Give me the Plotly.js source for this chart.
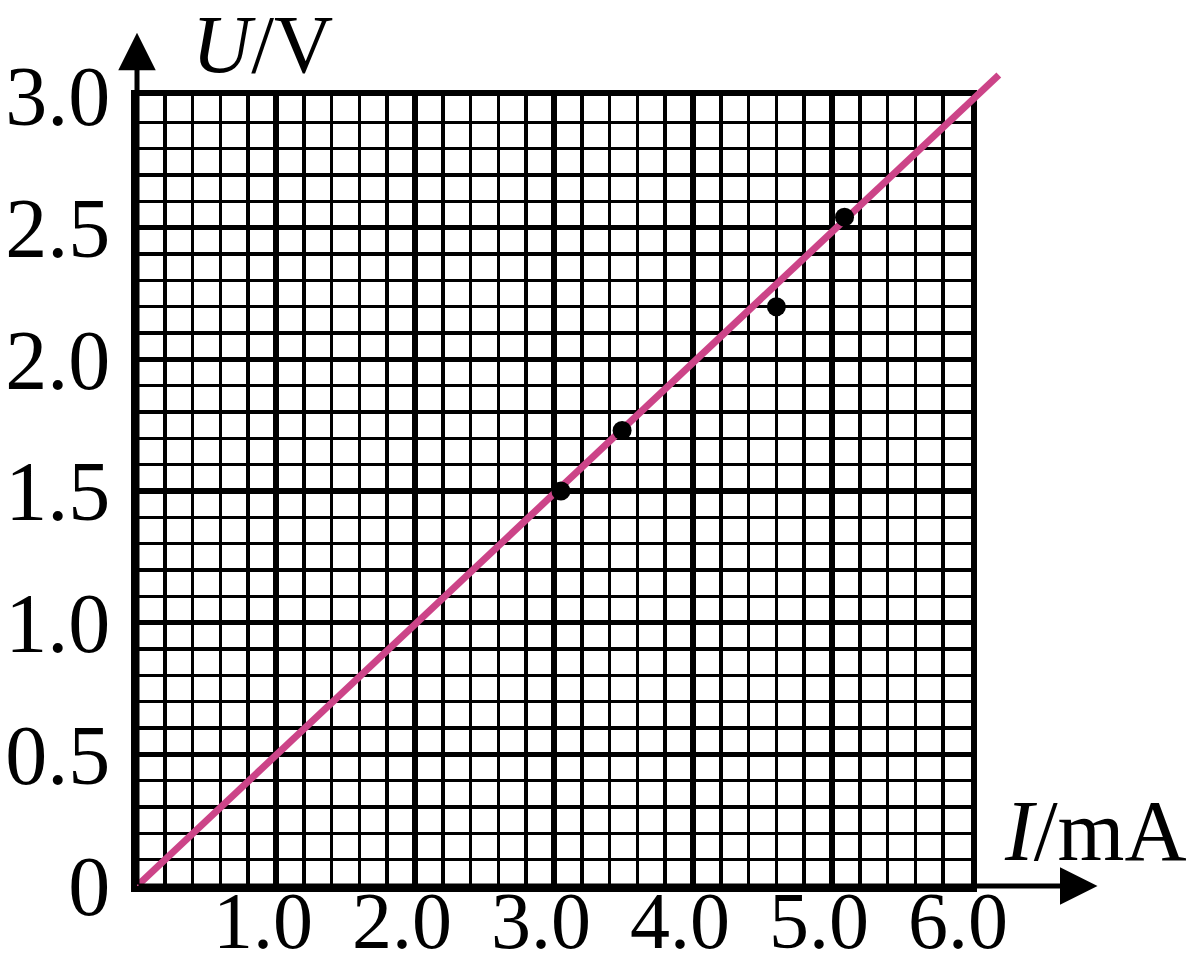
<!DOCTYPE html>
<html>
<head>
<meta charset="utf-8">
<script src="https://cdn.plot.ly/plotly-3.0.1.min.js"></script>
<style>
  html, body { margin: 0; padding: 0; background: #ffffff; }
  #chart { width: 1193px; height: 970px; }
</style>
</head>
<body>
<div id="chart"></div>
<script>
// ---- data ----
const currentI = [3.05, 3.49, 4.60, 5.09];      // I / mA (measured points)
const voltageU = [1.50, 1.73, 2.20, 2.54];      // U / V
const fitLineI = [0, 6.2];                       // fitted line I
const fitLineU = [0, 3.08];                      // fitted line U
const xTickVals = [1, 2, 3, 4, 5, 6];
const xTickText = ['1.0', '2.0', '3.0', '4.0', '5.0', '6.0'];
const yTickVals = [0, 0.5, 1, 1.5, 2, 2.5, 3];
const yTickText = ['0', '0.5', '1.0', '1.5', '2.0', '2.5', '3.0'];

// ---- layout geometry ----
const W = 1193, H = 970;
const M = { l: 137, r: 183, t: 60, b: 84 };
const plotW = W - M.l - M.r, plotH = H - M.t - M.b;
const gridW = 834, gridH = 790;           // pixel size of the 0..6 x 0..3 grid
const dx = gridW / plotW, dy = gridH / plotH;
const xMax = 6, yMax = 3;

const FONT = 'Liberation Serif, Times New Roman, serif';

const traces = [
  { // empty trace so the grid subplot (x, y) is created
    x: [], y: [], xaxis: 'x', yaxis: 'y', mode: 'markers',
    hoverinfo: 'skip', showlegend: false
  },
  {
    x: fitLineI, y: fitLineU, xaxis: 'x2', yaxis: 'y2',
    mode: 'lines', line: { color: '#cc4488', width: 7 },
    hoverinfo: 'skip', showlegend: false
  },
  {
    x: currentI, y: voltageU, xaxis: 'x2', yaxis: 'y2',
    mode: 'markers', marker: { color: '#000000', size: 19 },
    showlegend: false, cliponaxis: false
  }
];

const gridAxis = (vals, text, max, minorStep, fs) => ({
  range: [0, max], fixedrange: true,
  tickmode: 'array', tickvals: vals, ticktext: text,
  ticks: '', showgrid: true, gridcolor: '#000000', gridwidth: 5.5,
  zeroline: false, showline: true, mirror: true, linecolor: '#000000', linewidth: 6,
  tickfont: { family: FONT, size: fs, color: '#000000' },
  minor: { tickmode: 'linear', tick0: 0, dtick: minorStep, showgrid: true,
           gridcolor: '#000000', gridwidth: 3.6, ticks: '' }
});

const xa = gridAxis(xTickVals, xTickText, xMax, 0.2, 80);
xa.domain = [0, dx]; xa.anchor = 'y'; xa.ticklabelstandoff = -40; xa.ticklabelshift = -13;
const ya = gridAxis(yTickVals, yTickText, yMax, 0.1, 84);
ya.domain = [0, dy]; ya.anchor = 'x'; ya.ticklabelstandoff = 4;

const hidden = (max) => ({
  range: [0, max], showgrid: false, zeroline: false, showline: false,
  showticklabels: false, ticks: '', fixedrange: true
});
const xa2 = hidden(xMax / dx); xa2.domain = [0, 1]; xa2.anchor = 'y2';
const ya2 = hidden(yMax / dy); ya2.domain = [0, 1]; ya2.anchor = 'x2';

const arrowBase = {
  text: '', showarrow: true, arrowhead: 2, arrowsize: 1.5, arrowwidth: 5,
  arrowcolor: '#000000', xref: 'x2', yref: 'y2', axref: 'x2', ayref: 'y2', standoff: 0
};

const layout = {
  width: W, height: H,
  margin: M,
  paper_bgcolor: '#ffffff', plot_bgcolor: 'rgba(0,0,0,0)',
  showlegend: false,
  xaxis: xa, yaxis: ya, xaxis2: xa2, yaxis2: ya2,
  annotations: [
    Object.assign({}, arrowBase, { x: 0, y: 3.24, ax: 0, ay: 0 }),
    Object.assign({}, arrowBase, { x: 6.91, y: 0, ax: 0, ay: 0 }),
    {
      text: '<i>U</i>/V', xref: 'paper', yref: 'paper', x: 0.1443, y: 1.019,
      xanchor: 'center', yanchor: 'middle', showarrow: false,
      font: { family: FONT, size: 82, color: '#000000' }
    },
    {
      text: '<i>I</i>/mA', xref: 'paper', yref: 'paper', x: 1.098, y: 0.066,
      xanchor: 'center', yanchor: 'middle', showarrow: false,
      font: { family: FONT, size: 86, color: '#000000' }
    }
  ]
};

Plotly.newPlot('chart', traces, layout, { staticPlot: true, displayModeBar: false });
</script>
</body>
</html>
